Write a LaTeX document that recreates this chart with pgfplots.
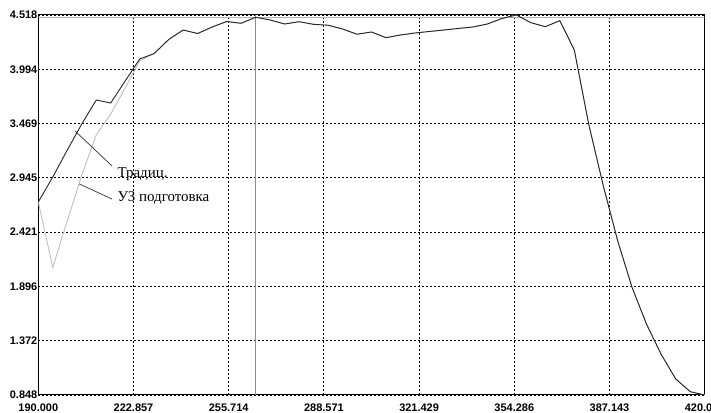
\documentclass[border=0pt]{standalone}
\usepackage{fontspec}
\setmainfont{Liberation Serif}
\newfontfamily\tickfont{Liberation Sans}
\usepackage{pgfplots}
\usepackage{pgfplotstable}
\pgfplotsset{compat=1.18}

% Traditional preparation
\pgfplotstableread{
x y
190 2.712
195 2.953
200 3.214
205 3.465
210 3.697
215 3.668
220 3.881
225 4.093
230 4.146
235 4.281
240 4.373
245 4.339
250 4.402
255 4.455
260 4.438
265 4.496
270 4.470
275 4.431
280 4.453
285 4.428
290 4.419
295 4.383
300 4.332
305 4.354
310 4.299
315 4.325
320 4.344
325 4.359
330 4.373
335 4.388
340 4.402
345 4.431
350 4.484
355 4.518
360 4.444
365 4.405
370 4.463
375 4.180
380 3.460
385 2.868
390 2.333
395 1.881
400 1.527
405 1.239
410 1.003
415 0.880
420 0.848
}\tradtable

% Ultrasound preparation (coincides with the other from 230 on)
\pgfplotstableread{
x y
190 2.712
195 2.081
200 2.528
205 2.973
210 3.359
215 3.562
220 3.813
225 4.074
230 4.146
235 4.281
240 4.373
245 4.339
250 4.402
255 4.455
260 4.438
265 4.496
270 4.470
275 4.431
280 4.453
285 4.428
290 4.419
295 4.383
300 4.332
305 4.354
310 4.299
315 4.325
320 4.344
325 4.359
330 4.373
335 4.388
340 4.402
345 4.431
350 4.484
355 4.518
360 4.444
365 4.405
370 4.463
375 4.180
380 3.460
385 2.868
390 2.333
395 1.881
400 1.527
405 1.239
410 1.003
415 0.880
420 0.848
}\uztable

\begin{document}
\begin{tikzpicture}
  \begin{axis}[
      scale only axis,
      width=666.4bp, height=380bp,
      xmin=190, xmax=420, ymin=0.848, ymax=4.518,
      xtick={190,222.857,255.714,288.571,321.429,354.286,387.143,420},
      xticklabels={190.000,222.857,255.714,288.571,321.429,354.286,387.143,420.000},
      ytick={0.848,1.372,1.896,2.421,2.945,3.469,3.994,4.518},
      yticklabels={0.848,1.372,1.896,2.421,2.945,3.469,3.994,4.518},
      major tick length=0pt,
      grid=major,
      major grid style={black, line width=0.9bp, dash pattern=on 2bp off 2bp},
      axis line style={black, line width=1bp},
      tick label style={font=\tickfont\bfseries\fontsize{11}{12}\selectfont},
      yticklabel style={inner xsep=0.8bp},
      xticklabel style={inner ysep=0pt, yshift=-8.5bp},
    ]
    \coordinate (SW) at (rel axis cs:0,0);
    \coordinate (NE) at (rel axis cs:1,1);

    % cursor cross
    \draw[black!45, line width=0.8bp] (axis cs:265,0.848) -- (axis cs:265,4.518);
    \draw[black!30, line width=0.8bp] (axis cs:190,4.496) -- (axis cs:420,4.496);

    \addplot[black!25, line width=0.9bp] table[x=x, y=y] {\uztable};
    \addplot[black!85, line width=0.9bp] table[x=x, y=y] {\tradtable};

    % labels with pointers
    \draw[black!80, line width=0.7bp] (axis cs:202.67,3.398) -- (axis cs:215.44,3.060);
    \draw[black!80, line width=0.7bp] (axis cs:204.15,2.886) -- (axis cs:215.44,2.741);
    \node[anchor=base west, inner sep=0pt, font=\fontsize{15}{17}\selectfont]
      at (axis cs:217.27,2.953) {Традиц.};
    \node[anchor=base west, inner sep=0pt, font=\fontsize{15}{17}\selectfont]
      at (axis cs:217.27,2.712) {УЗ подготовка};
  \end{axis}
  \pgfresetboundingbox
  \path[use as bounding box] ([xshift=-38.3bp,yshift=-18bp]SW) rectangle ([xshift=6.3bp,yshift=15bp]NE);
\end{tikzpicture}
\end{document}
